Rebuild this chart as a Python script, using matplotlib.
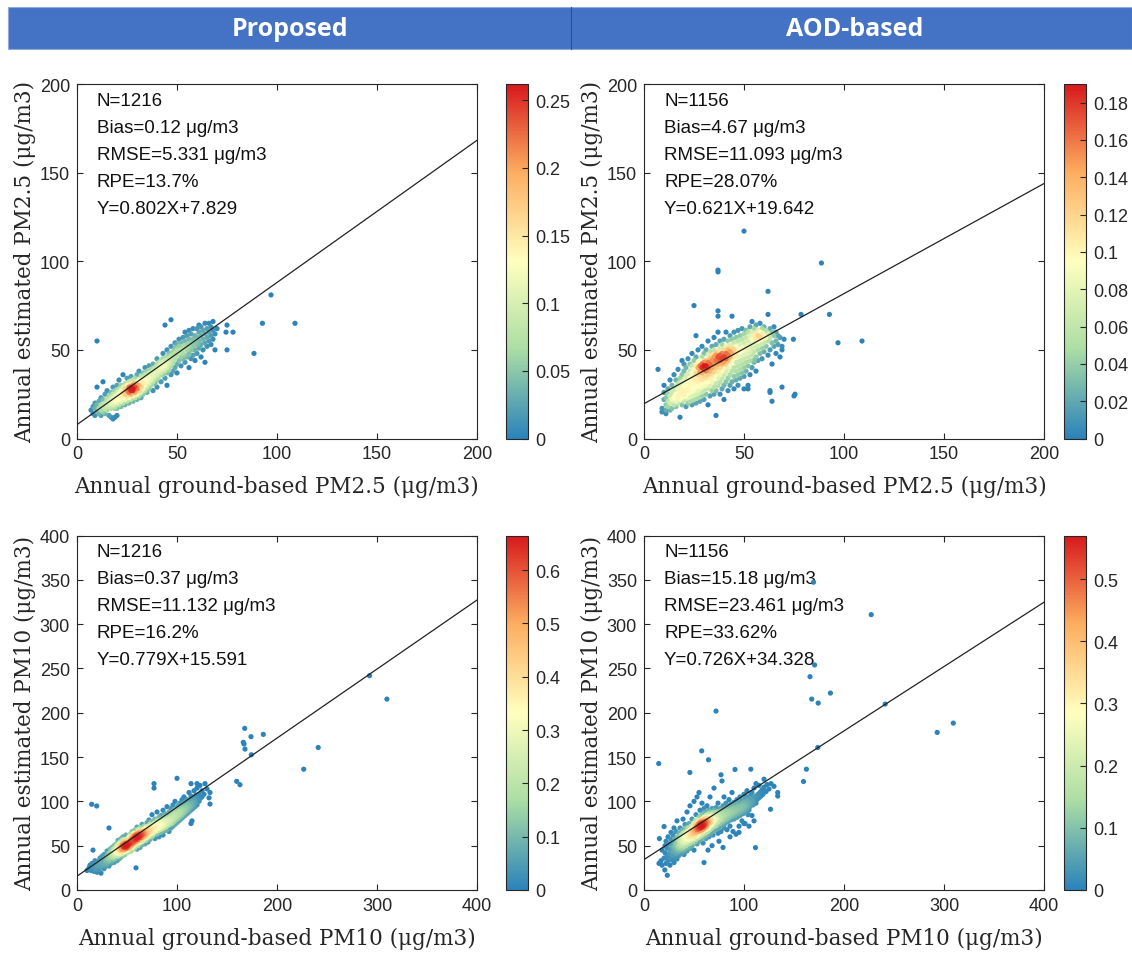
import numpy as np
import matplotlib
matplotlib.use("Agg")
import matplotlib.pyplot as plt
from matplotlib.colors import LinearSegmentedColormap
from matplotlib.patches import Rectangle

# ---- data ----
col_titles = ["Proposed", "AOD-based"]

# panel 1: Proposed, PM2.5
p1x = [7, 8, 8, 9, 9, 9, 10, 10, 10, 10, 11, 11, 11, 12, 12, 12, 12, 13, 13, 13, 13, 14, 14, 14, 14,
       15, 15, 15, 15, 16, 16, 16, 16, 17, 17, 17, 17, 17, 18, 18, 18, 18, 18, 19, 19, 19, 19, 19, 19,
       20, 20, 20, 20, 20, 20,
       21, 21, 21, 21, 21, 22, 22, 22, 22, 22, 23, 23, 23, 23, 23, 24, 24, 24, 24, 24, 25, 25, 25, 25, 25,
       26, 26, 26, 26, 26, 26, 27, 27, 27, 27, 27, 27, 27, 28, 28, 28, 28, 28, 28, 29, 29, 29, 29, 29,
       30, 30, 30, 30, 30, 30, 31, 31, 31, 31, 31, 32, 32, 32, 32, 32, 33, 33, 33, 33, 33, 34, 34, 34, 34, 34,
       35, 35, 35, 35, 35,
       36, 36, 36, 36, 36, 37, 37, 37, 37, 38, 38, 38, 38, 38, 39, 39, 39, 39, 40, 40, 40, 40, 40, 40,
       41, 41, 41, 41, 42, 42, 42, 42, 42, 43, 43, 43, 43, 43, 44, 44, 44, 44, 44, 45, 45, 45, 45, 45, 45,
       46, 46, 46, 46, 47, 47, 47, 47, 47, 47, 48, 48, 48, 48, 49, 49, 49, 49, 49, 50, 50, 50, 50, 50,
       51, 51, 51, 51, 52, 52, 52, 52, 53, 53, 53, 53, 54, 54, 54, 54, 54, 55, 55, 55, 55, 56, 56, 56, 56, 56,
       57, 57, 57, 57, 58, 58, 58, 58, 59, 59, 59, 59, 60, 60, 60, 60, 61, 61, 61, 61, 62, 62, 62, 62,
       63, 63, 63, 64, 64, 64, 64, 65, 65, 65, 66, 66, 66, 67, 67, 67, 68, 68, 68, 69, 69, 70,
       74.5, 75, 75, 78, 88.5, 92.7, 97, 109]
p1y = [16, 14, 18, 13, 17, 20, 15, 19, 29, 55, 14, 17, 21, 13, 16, 19, 23, 15, 18, 22, 32, 14, 17, 20, 25,
       16, 19, 22, 27, 13, 18, 21, 24, 12, 17, 20, 23, 26, 11, 19, 22, 25, 29, 12, 18, 21, 24, 27, 17,
       13, 20, 23, 26, 30, 17,
       19, 22, 25, 28, 33, 18, 21, 24, 27, 30, 20, 23, 26, 29, 36, 19, 22, 25, 28, 31, 21, 24, 27, 30, 34,
       20, 23, 26, 28, 29, 32, 22, 25, 27, 28, 29, 31, 35, 21, 24, 27, 28, 30, 33, 23, 26, 29, 31, 34,
       22, 25, 28, 30, 32, 36, 24, 27, 30, 33, 38, 23, 26, 29, 32, 35, 25, 28, 31, 34, 37, 27, 30, 33, 36, 40,
       26, 29, 32, 35, 38,
       28, 31, 34, 37, 41, 30, 33, 36, 39, 27, 32, 35, 38, 42, 31, 34, 37, 40, 29, 33, 36, 39, 42, 45,
       35, 38, 41, 43, 32, 37, 40, 43, 44, 36, 39, 42, 45, 48, 34, 38, 41, 44, 64, 30, 37, 40, 43, 46, 50,
       39, 42, 45, 48, 36, 41, 44, 47, 52, 67, 38, 43, 46, 49, 40, 45, 48, 51, 54, 42, 47, 50, 53, 37,
       44, 49, 52, 56, 41, 46, 50, 54, 45, 48, 52, 57, 43, 47, 51, 55, 60, 46, 50, 53, 58, 40, 48, 52, 56, 61,
       45, 50, 54, 59, 47, 52, 56, 62, 44, 50, 54, 58, 48, 53, 57, 62, 51, 55, 60, 64, 46, 53, 58, 63,
       50, 56, 61, 43, 54, 59, 65, 52, 57, 62, 55, 60, 65, 53, 58, 63, 56, 61, 66, 50, 59, 62,
       60, 64, 50, 60, 48, 65, 81, 65]

# panel 2: AOD-based, PM2.5
p2x = [7, 9, 9, 10, 10, 10, 11, 11, 11, 11, 12, 12, 12, 12, 13, 13, 13, 13, 14, 14, 14, 14, 15, 15, 15, 15,
       16, 16, 16, 16, 16, 17, 17, 17, 17, 17, 18, 18, 18, 18, 18, 19, 19, 19, 19, 19, 19, 20, 20, 20, 20, 20, 20,
       21, 21, 21, 21, 21, 21, 22, 22, 22, 22, 22, 22, 23, 23, 23, 23, 23, 23, 24, 24, 24, 24, 24, 24, 24,
       25, 25, 25, 25, 25, 25, 25, 26, 26, 26, 26, 26, 26, 26, 26, 27, 27, 27, 27, 27, 27, 27,
       28, 28, 28, 28, 28, 28, 28, 29, 29, 29, 29, 29, 29, 29, 29, 30, 30, 30, 30, 30, 30, 30, 30,
       31, 31, 31, 31, 31, 31, 31, 32, 32, 32, 32, 32, 32, 32, 32, 33, 33, 33, 33, 33, 33, 33,
       34, 34, 34, 34, 34, 34, 34, 35, 35, 35, 35, 35, 35, 35, 35,
       36, 36, 36, 36, 36, 36, 36, 36, 36, 37, 37, 37, 37, 37, 37, 37, 37, 37, 37, 37,
       38, 38, 38, 38, 38, 38, 38, 38, 39, 39, 39, 39, 39, 39, 39, 40, 40, 40, 40, 40, 40, 40, 40,
       41, 41, 41, 41, 41, 41, 41, 42, 42, 42, 42, 42, 42, 42, 42, 43, 43, 43, 43, 43, 43, 43,
       44, 44, 44, 44, 44, 44, 44, 45, 45, 45, 45, 45, 45, 45, 46, 46, 46, 46, 46, 46,
       47, 47, 47, 47, 47, 47, 47, 48, 48, 48, 48, 48, 48, 49, 49, 49, 49, 49, 49, 50, 50, 50, 50, 50, 50, 50, 50,
       51, 51, 51, 51, 51, 51, 52, 52, 52, 52, 52, 52, 53, 53, 53, 53, 53, 53, 54, 54, 54, 54, 54, 54,
       55, 55, 55, 55, 55, 56, 56, 56, 56, 56, 56, 57, 57, 57, 57, 57, 58, 58, 58, 58, 58,
       59, 59, 59, 59, 59, 60, 60, 60, 60, 61, 61, 61, 62, 62, 62, 62, 62, 63, 63, 63, 63, 63,
       64, 64, 64, 64, 65, 65, 65, 66, 66, 66, 67, 67, 68, 68, 69, 69, 69, 70,
       75, 75.5, 74.7, 78.5, 88.7, 92.7, 97, 109, 52, 55]
p2y = [39, 15, 17, 22, 26, 30, 14, 16, 19, 23, 18, 21, 25, 28, 16, 20, 24, 33, 17, 22, 26, 30, 19, 23, 27, 36,
       18, 21, 25, 29, 33, 20, 24, 28, 31, 39, 12, 22, 26, 30, 34, 19, 23, 27, 32, 36, 44, 21, 25, 29, 33, 38, 42,
       18, 24, 27, 31, 35, 40, 20, 23, 28, 32, 36, 45, 21, 26, 30, 34, 38, 42, 19, 24, 28, 33, 37, 41, 48,
       22, 27, 31, 35, 39, 44, 75, 20, 25, 29, 33, 37, 41, 46, 58, 23, 27, 32, 36, 40, 43, 50,
       21, 26, 30, 34, 38, 41, 44, 24, 29, 33, 37, 40, 42, 46, 52, 22, 27, 31, 35, 39, 41, 43, 48,
       25, 30, 34, 38, 41, 44, 50, 19, 28, 32, 36, 40, 43, 47, 55, 24, 30, 34, 38, 42, 45, 49,
       27, 32, 36, 40, 44, 47, 52, 25, 29, 34, 38, 42, 46, 50, 57,
       13, 27, 31, 36, 40, 44, 47, 48, 53, 30, 34, 38, 42, 46, 49, 60, 69, 72, 94, 95,
       25, 32, 36, 40, 44, 47, 51, 55, 28, 34, 38, 42, 45, 48, 53, 22, 30, 36, 40, 43, 46, 50, 56,
       32, 38, 42, 45, 48, 52, 60, 27, 34, 40, 44, 47, 50, 51, 55, 30, 36, 42, 46, 49, 53, 58,
       32, 38, 44, 48, 51, 56, 69, 28, 35, 40, 46, 50, 54, 60, 33, 38, 43, 48, 52, 57,
       30, 36, 41, 46, 50, 55, 61, 34, 39, 44, 49, 53, 58, 37, 42, 47, 51, 56, 62, 28, 35, 40, 45, 50, 54, 59, 117,
       38, 43, 48, 52, 57, 61, 30, 41, 46, 50, 55, 60, 36, 44, 49, 53, 58, 63, 40, 47, 51, 56, 60, 66,
       43, 49, 54, 58, 62, 38, 46, 52, 56, 59, 64, 44, 50, 55, 58, 61, 48, 53, 57, 60, 65,
       45, 51, 56, 59, 62, 49, 54, 58, 63, 52, 57, 61, 47, 55, 59, 70, 83, 27, 26, 50, 57, 62,
       21, 42, 54, 60, 52, 58, 63, 48, 55, 60, 53, 58, 46, 57, 29, 50, 52, 56,
       24, 25, 56, 70, 99, 70, 54, 55, 28, 44]

# panel 3: Proposed, PM10
p3x = [10, 12, 13, 14, 15, 15, 16, 17, 18, 18, 18, 19, 20, 20, 21, 22, 22, 23, 23, 24, 24, 25, 25, 26, 26,
       27, 27, 28, 28, 29, 29, 30, 30, 30, 14.7, 19.7, 32, 16,
       31, 31, 31, 32, 32, 32, 33, 33, 33, 34, 34, 34, 35, 35, 35, 36, 36, 36, 37, 37, 37, 37, 38, 38, 38,
       39, 39, 39, 40, 40, 40, 40, 41, 41, 41, 41, 42, 42, 42, 42, 43, 43, 43, 43, 44, 44, 44, 44,
       45, 45, 45, 45, 45, 46, 46, 46, 46, 46, 47, 47, 47, 47, 47, 48, 48, 48, 48, 48, 49, 49, 49, 49, 49,
       50, 50, 50, 50, 50, 51, 51, 51, 51, 52, 52, 52, 52, 53, 53, 53, 53, 54, 54, 54, 54, 55, 55, 55, 55, 55,
       56, 56, 56, 56, 56, 57, 57, 57, 57, 57, 58, 58, 58, 58, 58, 58, 59, 59, 59, 59, 59, 60, 60, 60, 60, 60, 60,
       61, 61, 61, 61, 61, 62, 62, 62, 62, 63, 63, 63, 63, 63, 64, 64, 64, 64, 65, 65, 65, 65, 65,
       66, 66, 66, 66, 67, 67, 67, 67, 68, 68, 68, 68, 69, 69, 69, 69, 70, 70, 70, 70, 71, 71, 71, 71,
       72, 72, 72, 72, 73, 73, 73, 73, 74, 74, 74, 75, 75, 75, 75, 75, 76, 76, 76, 76, 77, 77, 77, 77, 77,
       78, 78, 78, 78, 79, 79, 79, 80, 80, 80, 80, 80, 81, 81, 81, 82, 82, 82, 82, 83, 83, 83,
       84, 84, 84, 84, 85, 85, 85, 86, 86, 86, 86, 87, 87, 87, 88, 88, 88, 88, 89, 89, 89, 90, 90, 90, 90,
       91, 91, 91, 92, 92, 92, 92, 93, 93, 93, 94, 94, 94, 94, 95, 95, 95, 96, 96, 96, 96, 97, 97, 97,
       98, 98, 98, 98, 99, 99, 99, 100, 100, 100, 100, 101, 101, 101, 102, 102, 102, 103, 103, 103,
       104, 104, 104, 105, 105, 105, 106, 106, 106, 107, 107, 107, 108, 108, 108, 109, 109, 110, 110, 110,
       111, 111, 112, 112, 112, 113, 113, 114, 114, 114, 114, 115, 115, 116, 116, 117, 117, 117, 118, 118,
       119, 119, 120, 120, 120, 122, 122, 123, 123, 125, 125, 127, 128, 130, 132, 133, 133, 115, 114, 120,
       167.7, 174, 186.3, 166.3, 167, 168, 174.3, 159.7, 163, 292.5, 309.9, 241.2, 226.7]
p3y = [22, 25, 28, 22, 24, 30, 26, 21, 23, 28, 33, 25, 20, 30, 27, 23, 33, 29, 36, 19, 26, 31, 38, 28, 34,
       24, 40, 30, 36, 27, 33, 29, 38, 44, 96.7, 94.8, 70, 45,
       31, 35, 41, 27, 33, 39, 36, 42, 46, 30, 38, 44, 33, 40, 48, 36, 42, 46, 31, 38, 44, 50, 35, 41, 47,
       39, 44, 52, 33, 42, 46, 50, 38, 44, 48, 56, 35, 41, 47, 52, 40, 45, 50, 54, 37, 43, 48, 58,
       41, 46, 50, 52, 56, 39, 44, 49, 51, 60, 43, 48, 50, 53, 57, 40, 46, 49, 51, 55, 44, 48, 50, 53, 62,
       42, 47, 49, 51, 56, 45, 50, 52, 58, 43, 48, 53, 60, 47, 52, 55, 63, 44, 50, 54, 58, 48, 53, 57, 61, 66,
       46, 52, 56, 60, 62, 50, 55, 59, 61, 64, 48, 54, 58, 61, 62, 68, 25, 52, 57, 60, 63, 46, 55, 59, 62, 65, 71,
       50, 57, 61, 64, 68, 53, 59, 63, 66, 48, 56, 61, 65, 70, 54, 59, 63, 67, 51, 57, 62, 66, 74,
       55, 60, 64, 68, 58, 63, 67, 72, 52, 61, 65, 69, 56, 63, 67, 71, 59, 64, 69, 76, 54, 62, 67, 72,
       60, 65, 70, 79, 57, 63, 68, 74, 66, 71, 77, 60, 64, 69, 73, 85, 62, 67, 72, 78, 65, 70, 75, 115, 120,
       58, 68, 73, 80, 66, 71, 76, 63, 69, 74, 79, 88, 67, 72, 77, 60, 70, 75, 82, 68, 73, 79,
       65, 71, 76, 84, 69, 74, 80, 62, 72, 77, 90, 70, 75, 82, 67, 73, 79, 86, 71, 77, 83, 68, 75, 80, 94,
       73, 78, 85, 66, 76, 81, 88, 74, 79, 86, 70, 77, 83, 92, 75, 81, 88, 72, 79, 85, 96, 77, 83, 90,
       74, 81, 87, 100, 79, 85, 92, 76, 83, 89, 126, 81, 87, 95, 78, 85, 91, 83, 89, 98,
       80, 87, 93, 85, 91, 102, 82, 89, 96, 87, 93, 105, 84, 91, 99, 89, 95, 86, 93, 102,
       91, 97, 88, 95, 110, 93, 100, 75, 90, 97, 106, 95, 102, 92, 99, 97, 105, 112, 94, 101,
       99, 107, 96, 103, 115, 100, 108, 103, 118, 105, 112, 108, 120, 114, 104, 97, 110, 78, 120, 120,
       182.4, 173, 175.6, 166.6, 164.7, 159, 152.6, 122.6, 118.8, 241.8, 215.4, 160.8, 136.3]

# panel 4: AOD-based, PM10
p4x = [14.7, 15.4, 15, 17, 18, 18, 20.1, 20.8, 23.3, 20, 21, 21, 22, 22, 23, 23, 24, 24, 25, 25,
       26, 26, 26, 27, 27, 28, 28, 28, 29, 29, 29, 30, 30, 30, 30, 31, 31, 31, 32, 32, 32,
       33, 33, 33, 33, 34, 34, 34, 35, 35, 35, 35, 36, 36, 36, 36, 37, 37, 37, 37, 38, 38, 38, 38,
       39, 39, 39, 39, 39, 40, 40, 40, 40, 40,
       41, 41, 41, 41, 41, 42, 42, 42, 42, 43, 43, 43, 43, 43, 44, 44, 44, 44, 45, 45, 45, 45, 45.9,
       46, 46, 46, 46, 46, 47, 47, 47, 47, 48, 48, 48, 48, 48, 49, 49, 49, 49, 50, 50, 50, 50, 50, 50,
       51, 51, 51, 51, 51, 52, 52, 52, 52, 52, 53, 53, 53, 53, 53, 53, 54, 54, 54, 54, 54,
       55, 55, 55, 55, 55, 55, 55, 56, 56, 56, 56, 56, 56, 57, 57, 57, 57, 57, 57, 57.7,
       58, 58, 58, 58, 58, 58, 59, 59, 59, 59, 59, 59, 60, 60, 60, 60, 60, 60, 60,
       61, 61, 61, 61, 61, 62, 62, 62, 62, 62, 63, 63, 63, 63, 63, 64, 64, 64, 64, 64.5,
       65, 65, 65, 65, 65, 66, 66, 66, 66, 66, 67, 67, 67, 67, 68, 68, 68, 68, 69, 69, 69, 69,
       70, 70, 70, 70, 70,
       71, 71, 71, 72, 72, 72, 72, 72, 73, 73, 73, 74, 74, 74, 74, 75, 75, 75, 76, 76, 76,
       77, 77, 77, 77, 78, 78, 78, 78, 79, 79, 79, 79, 80, 80, 80, 80, 81, 81, 81, 82, 82, 82,
       83, 83, 83, 84, 84, 84, 85, 85, 85, 86, 86, 86, 87, 87, 87, 88, 88, 88, 89, 89, 89,
       90, 90, 90, 91, 91, 91, 92, 92, 92, 93, 93, 93, 94, 94, 95, 95, 95, 96, 96, 96, 97, 97,
       98, 98, 98, 99, 99, 100, 100, 100, 101, 101, 101, 102, 102, 103, 103, 103, 104, 104, 104,
       105, 105, 106, 106, 106.8, 107, 107, 108, 108, 108, 109, 109, 110, 110, 111.5, 112, 112, 112,
       113, 114, 115, 115, 116, 117, 118, 119, 120, 120, 122, 123, 125, 126.5, 127, 130, 133.7, 133.7,
       100, 105, 110, 95, 86, 75, 68, 64,
       227.2, 169.5, 170.6, 166, 167.7, 174.2, 186.4, 241.2, 293.2, 309.3, 173.8, 162.4, 159.5]
p4y = [142.7, 58, 30, 33, 45, 28, 71.6, 22.6, 16.6, 36, 42, 50, 30, 55, 38, 47, 33, 60, 41, 52,
       28, 36, 46, 57, 65, 34, 43, 51, 39, 48, 62, 31, 44, 54, 70, 37, 49, 58, 41, 52, 66,
       35, 46, 56, 78, 43, 50, 60, 39, 48, 55, 64, 45, 52, 58, 70, 41, 50, 56, 62, 47, 54, 60, 67,
       44, 52, 58, 64, 80, 40, 49, 55, 61, 69,
       46, 53, 59, 65, 74, 50, 57, 63, 70, 44, 54, 60, 66, 88, 48, 57, 63, 70, 52, 60, 66, 75, 132.6,
       47, 56, 62, 68, 95, 53, 60, 65, 72, 50, 58, 63, 68, 80, 55, 61, 66, 71, 45, 58, 64, 69, 75, 100,
       54, 62, 67, 72, 78, 57, 65, 70, 74, 85, 52, 61, 68, 72, 76, 105, 59, 66, 70, 74, 79,
       55, 63, 69, 73, 76, 82, 110, 60, 67, 71, 75, 78, 90, 57, 65, 70, 74, 77, 84, 157,
       62, 68, 72, 76, 80, 98, 53, 66, 71, 75, 79, 86, 31, 60, 69, 73, 77, 82, 92,
       64, 71, 76, 80, 88, 58, 68, 74, 78, 84, 62, 72, 77, 81, 95, 66, 75, 80, 86, 146.9,
       60, 70, 78, 83, 90, 68, 76, 81, 88, 105, 64, 73, 79, 85, 70, 77, 83, 92, 62, 74, 80, 87,
       67, 77, 84, 90, 115,
       72, 80, 87, 201.9, 68, 76, 83, 93, 73, 80, 88, 64, 77, 85, 98, 70, 80, 88, 75, 83, 92,
       130, 66, 79, 87, 73, 82, 90, 123, 48, 77, 86, 95, 70, 80, 89, 105, 75, 84, 92, 79, 88, 98,
       68, 82, 91, 77, 86, 95, 81, 89, 102, 72, 84, 93, 79, 88, 97, 83, 91, 110, 66, 86, 95,
       80, 89, 99, 136, 84, 93, 63, 88, 97, 82, 91, 102, 86, 95, 72, 90, 99, 84, 93, 105, 88, 97,
       78, 92, 101, 86, 95, 90, 99, 108, 75, 94, 103, 88, 97, 92, 101, 112, 85, 95, 105,
       90, 99, 94, 103, 136.3, 97, 108, 84, 100, 110, 96, 104, 100, 115, 47.8, 98, 106, 120,
       102, 108, 104, 118, 110, 106, 113, 108, 116, 125, 111, 119, 114, 91.1, 120, 117, 106, 110,
       75, 72, 78, 65, 60, 55, 50, 45,
       310.7, 347.3, 253.9, 240.7, 215.4, 210.9, 222.2, 209.8, 177.8, 188.3, 160.8, 136.3, 122.4]

xs = [p1x, p2x, p3x, p4x]
ys = [p1y, p2y, p3y, p4y]
fit_slope = [0.802, 0.621, 0.779, 0.726]
fit_icpt = [7.829, 19.642, 15.591, 34.328]
n_obs = [1216, 1156, 1216, 1156]
bias = ["0.12", "4.67", "0.37", "15.18"]
rmse = ["5.331", "11.093", "11.132", "23.461"]
rpe = ["13.7", "28.07", "16.2", "33.62"]
ax_max = [200, 200, 400, 400]
cbar_max = [0.262, 0.19, 0.665, 0.57]
cbar_ticks = [[0, 0.05, 0.1, 0.15, 0.2, 0.25],
              [0, 0.02, 0.04, 0.06, 0.08, 0.1, 0.12, 0.14, 0.16, 0.18],
              [0, 0.1, 0.2, 0.3, 0.4, 0.5, 0.6],
              [0, 0.1, 0.2, 0.3, 0.4, 0.5]]
species = ["PM2.5", "PM2.5", "PM10", "PM10"]

cmap = LinearSegmentedColormap.from_list(
    "spec5", ["#2b83ba", "#abdda4", "#ffffbf", "#fdae61", "#d7191c"])

fig = plt.figure(figsize=(11.32, 9.54), dpi=100)
W, H = 1132.0, 954.0

# header bar
fig.patches.append(Rectangle((8 / W, 1 - 50 / H), 1 - 8 / W, 42 / H,
                             transform=fig.transFigure, facecolor="#4472c4",
                             edgecolor="#8faadc", lw=0.8))
fig.lines.append(plt.Line2D([571 / W, 571 / W], [1 - 50 / H, 1 - 8 / H],
                            transform=fig.transFigure, color="#2f528f", lw=0.8))
fig.text(290 / W, 1 - 29 / H, col_titles[0], color="white", fontsize=18,
         fontweight="bold", family="Open Sans", ha="center", va="center")
fig.text(855 / W, 1 - 29 / H, col_titles[1], color="white", fontsize=18,
         fontweight="bold", family="Open Sans", ha="center", va="center")

# axes boxes in pixels: left, top
ax_left = [77, 644, 77, 644]
ax_top = [85, 85, 536.5, 536.5]
cb_left = [506, 1064, 506, 1064]
aw, ah = 400, 354.5

for i in range(4):
    ax = fig.add_axes([ax_left[i] / W, 1 - (ax_top[i] + ah) / H, aw / W, ah / H])
    x = np.array(xs[i], dtype=float)
    y = np.array(ys[i], dtype=float)
    m = ax_max[i]
    # point density (gaussian kernel in axes units) for the colour
    u, v = x / m, y / m
    h = 0.014
    d2 = (u[:, None] - u[None, :]) ** 2 + (v[:, None] - v[None, :]) ** 2
    dens = np.exp(-d2 / (2 * h * h)).sum(axis=1) - 1
    dens = (dens / dens.max()) ** 2.6
    c = dens * cbar_max[i]
    order = np.argsort(c)
    sc = ax.scatter(x[order], y[order], c=c[order], cmap=cmap, vmin=0,
                    vmax=cbar_max[i], s=14, linewidths=0, zorder=2)
    xx = np.array([0, m])
    ax.plot(xx, fit_slope[i] * xx + fit_icpt[i], color="#222222", lw=0.9, zorder=3)
    ax.set_xlim(0, m)
    ax.set_ylim(0, m)
    step = 50 if m == 200 else 100
    ax.set_xticks(np.arange(0, m + 1, step))
    ax.set_yticks(np.arange(0, m + 1, 50))
    ax.tick_params(direction="in", top=True, right=True, length=4, width=0.8,
                   labelsize=13, colors="#262626", pad=5)
    for lab in ax.get_xticklabels() + ax.get_yticklabels():
        lab.set_family("Liberation Sans")
    for s in ax.spines.values():
        s.set_color("#262626")
        s.set_linewidth(0.8)
    ax.set_xlabel("Annual ground-based %s (\u03bcg/m3)" % species[i],
                  family="DejaVu Serif", fontsize=15.5, color="#262626", labelpad=9)
    ax.set_ylabel("Annual estimated %s (\u03bcg/m3)" % species[i],
                  family="DejaVu Serif", fontsize=15.5, color="#262626", labelpad=3)
    txt = "N=%d\nBias=%s \u03bcg/m3\nRMSE=%s \u03bcg/m3\nRPE=%s%%\nY=%.3fX+%.3f" % (
        n_obs[i], bias[i], rmse[i], rpe[i], fit_slope[i], fit_icpt[i])
    ax.text(0.05, 0.978, txt, transform=ax.transAxes, ha="left", va="top",
            family="Liberation Sans", fontsize=13.5, linespacing=1.77,
            color="#111111", zorder=1)

    cax = fig.add_axes([cb_left[i] / W, 1 - (ax_top[i] + ah) / H, 22 / W, ah / H])
    cb = fig.colorbar(sc, cax=cax)
    cb.set_ticks(cbar_ticks[i])
    cb.set_ticklabels(["%g" % t for t in cbar_ticks[i]])
    cax.tick_params(direction="in", length=4, width=0.8, labelsize=13,
                    colors="#262626", pad=5)
    for lab in cax.get_yticklabels():
        lab.set_family("Liberation Sans")
    cb.outline.set_edgecolor("#262626")
    cb.outline.set_linewidth(0.8)

fig.savefig("out.png", dpi=100)
